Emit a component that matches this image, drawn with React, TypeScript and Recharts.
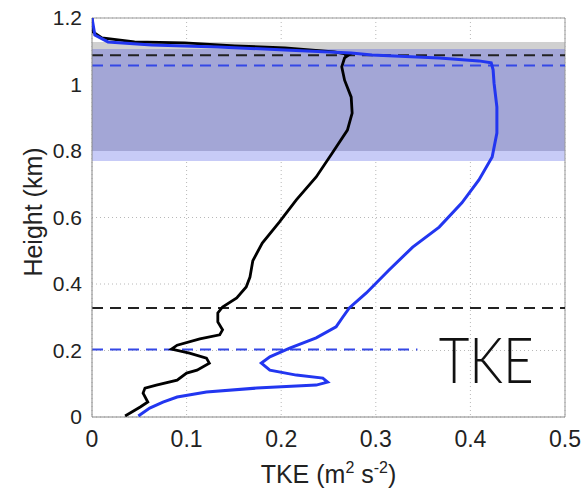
import React from 'react';
import {
  ComposedChart, XAxis, YAxis, CartesianGrid, Scatter, ReferenceArea, ReferenceLine, ReferenceDot,
} from 'recharts';

const xTicks = [0, 0.1, 0.2, 0.3, 0.4, 0.5];
const yTicks = [0, 0.2, 0.4, 0.6, 0.8, 1, 1.2];

const blackHeight = [0.003, 0.03, 0.045, 0.072, 0.087, 0.096, 0.111, 0.132, 0.141, 0.162, 0.177, 0.192, 0.204, 0.216, 0.235, 0.247, 0.262, 0.286, 0.313, 0.331, 0.358, 0.391, 0.421, 0.47, 0.523, 0.586, 0.653, 0.722, 0.794, 0.863, 0.914, 0.962, 1.013, 1.053, 1.08, 1.09, 1.098, 1.11, 1.116, 1.125, 1.128, 1.14, 1.158, 1.2];
const blackTke = [0.035, 0.051, 0.059, 0.054, 0.056, 0.068, 0.09, 0.1, 0.111, 0.124, 0.121, 0.103, 0.084, 0.09, 0.114, 0.135, 0.138, 0.133, 0.133, 0.138, 0.153, 0.163, 0.167, 0.17, 0.18, 0.198, 0.216, 0.237, 0.254, 0.27, 0.275, 0.274, 0.267, 0.264, 0.267, 0.272, 0.256, 0.204, 0.151, 0.098, 0.045, 0.0105, 0.001, 0];

const blueHeight = [0.003, 0.027, 0.045, 0.06, 0.075, 0.087, 0.096, 0.105, 0.117, 0.126, 0.141, 0.162, 0.181, 0.207, 0.238, 0.271, 0.3, 0.328, 0.373, 0.442, 0.511, 0.571, 0.644, 0.713, 0.782, 0.854, 0.932, 1.004, 1.044, 1.065, 1.071, 1.08, 1.089, 1.095, 1.104, 1.113, 1.119, 1.128, 1.149, 1.2];
const blueTke = [0.049, 0.061, 0.075, 0.09, 0.121, 0.174, 0.237, 0.249, 0.244, 0.216, 0.188, 0.179, 0.188, 0.209, 0.237, 0.258, 0.265, 0.272, 0.29, 0.314, 0.339, 0.367, 0.391, 0.409, 0.423, 0.428, 0.428, 0.425, 0.424, 0.422, 0.409, 0.367, 0.296, 0.274, 0.204, 0.133, 0.063, 0.017, 0.003, 0];

const bands = [
  { from: 0.77, to: 0.8, color: '#c7cbf7' },
  { from: 0.8, to: 1.107, color: '#a3a6d6' },
  { from: 1.107, to: 1.128, color: '#d0d0d0' },
];

const blackDashHeights = [1.088, 0.328];
const blueDashTop = 1.057;
const blueDashLow = 0.203;
const blueDashLowEnd = 0.344;
const annotation = { x: 0.4167, h: 0.102, text: 'TKE' };

const blackData = blackHeight.map((h, i) => ({ x: blackTke[i], h }));
const blueData = blueHeight.map((h, i) => ({ x: blueTke[i], h }));

const FONT = '"Liberation Sans", Arial, sans-serif';
const noShape = () => <g />;

export default function App() {
  return (
    <div style={{ position: 'absolute', left: 0, top: 0 }}>
      <ComposedChart width={585} height={491} margin={{ top: 18, right: 20, left: 0, bottom: 0 }}>
        {bands.map((b) => (
          <ReferenceArea key={b.from} y1={b.from} y2={b.to} fill={b.color} fillOpacity={1} stroke="none" ifOverflow="visible" />
        ))}
        <CartesianGrid stroke="#b8b8b8" strokeDasharray="1 3" />
        <XAxis
          type="number"
          dataKey="x"
          domain={[0, 0.5]}
          ticks={xTicks}
          height={74}
          tickLine={false}
          tickSize={0}
          stroke="#888"
          tick={{ fill: '#222', fontSize: 23, fontFamily: FONT }}
          tickMargin={14}
          allowDataOverflow
          label={{
            content: ({ viewBox }: any) => (
              <text x={viewBox.x + viewBox.width / 2} y={483} textAnchor="middle" fontSize={25} fontFamily={FONT} fill="#222">
                TKE (m<tspan dy={-10} fontSize={16}>2</tspan>
                <tspan dy={10}> s</tspan>
                <tspan dy={-10} fontSize={16}>-2</tspan>
                <tspan dy={10}>)</tspan>
              </text>
            ),
          }}
        />
        <YAxis
          type="number"
          dataKey="h"
          domain={[0, 1.2]}
          ticks={yTicks}
          width={92}
          tickLine={false}
          tickSize={0}
          stroke="#888"
          tick={{ fill: '#222', fontSize: 21, fontFamily: FONT }}
          tickMargin={10}
          allowDataOverflow
          label={{
            content: () => (
              <text x={42} y={212} transform="rotate(-90 42 212)" textAnchor="middle" fontSize={25} fontFamily={FONT} fill="#222">
                Height (km)
              </text>
            ),
          }}
        />
        <ReferenceLine y={1.2} stroke="#999" />
        <ReferenceLine x={0.5} stroke="#999" />
        {blackDashHeights.map((h) => (
          <ReferenceLine key={h} y={h} stroke="#222" strokeWidth={2} strokeDasharray="11 7" />
        ))}
        <ReferenceLine y={blueDashTop} stroke="#3548e6" strokeWidth={2} strokeDasharray="11 7" />
        <ReferenceLine
          segment={[{ x: 0, y: blueDashLow }, { x: blueDashLowEnd, y: blueDashLow }]}
          stroke="#3548e6"
          strokeWidth={2}
          strokeDasharray="11 7"
        />
        <Scatter data={blackData} dataKey="h" line={{ stroke: '#000', strokeWidth: 2.8 }} lineJointType="linear" shape={noShape} isAnimationActive={false} />
        <Scatter data={blueData} dataKey="h" line={{ stroke: '#2236f0', strokeWidth: 3 }} lineJointType="linear" shape={noShape} isAnimationActive={false} />
        <ReferenceDot
          x={annotation.x}
          y={annotation.h}
          r={1}
          fill="none"
          stroke="none"
          label={{
            content: ({ viewBox }: any) => (
              <text
                x={viewBox.x + viewBox.width / 2}
                y={viewBox.y + viewBox.height / 2}
                textAnchor="middle"
                fontSize={64}
                fontWeight={300}
                fontFamily="Lato, sans-serif"
                fill="#111"
                textLength={95}
                lengthAdjust="spacingAndGlyphs"
              >
                {annotation.text}
              </text>
            ),
          }}
        />
      </ComposedChart>
    </div>
  );
}
